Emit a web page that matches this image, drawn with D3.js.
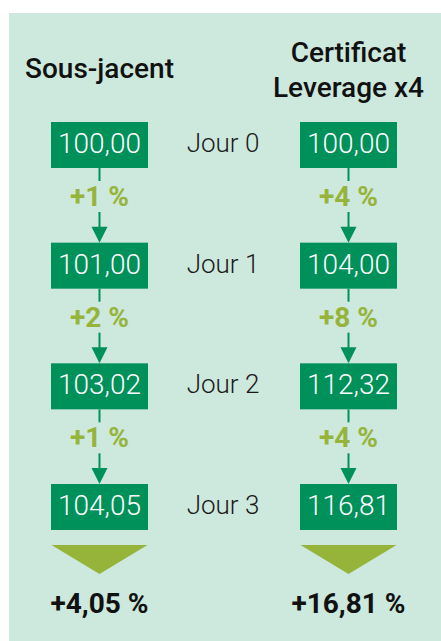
<!DOCTYPE html>
<html>
<head>
<meta charset="utf-8">
<script src="https://cdn.jsdelivr.net/npm/d3@7"></script>
<style>
  html, body { margin: 0; padding: 0; background: #fff; }
  text { font-family: Roboto, "Open Sans", sans-serif; }
</style>
</head>
<body>
<div id="chart"></div>
<script>
// values
const days = ["Jour 0", "Jour 1", "Jour 2", "Jour 3"];
const columns = ["sous", "cert"];
const headers = { sous: ["Sous-jacent"], cert: ["Certificat", "Leverage x4"] };
const sousValues = [100, 101, 103.02, 104.05];
const certValues = [100, 104, 112.32, 116.81];
const sousChanges = [1, 2, 1];
const certChanges = [4, 8, 4];
const totals = [4.05, 16.81];

const W = 441, H = 641;
const green = "#00905a", olive = "#96b43a", bg = "#cde8dd";

const fr = d3.formatLocale({ decimal: ",", thousands: " ", grouping: [3], currency: ["", " €"] });
const fmt2 = fr.format(".2f");

const svg = d3.select("#chart")
    .append("svg")
    .attr("width", W)
    .attr("height", H);

// panel
svg.append("rect")
    .attr("x", 9).attr("y", 13)
    .attr("width", W - 9).attr("height", H - 13)
    .attr("fill", bg);

// scales
const x = d3.scalePoint().domain(columns).range([99.5, 348.5]);
const midX = 223;
const y = d3.scaleLinear().domain([0, days.length - 1]).range([122, 484]);
const boxW = 97, boxH = 46;

const series = [
    { key: "sous", values: sousValues, changes: sousChanges, total: totals[0] },
    { key: "cert", values: certValues, changes: certChanges, total: totals[1] }
];

// headers
svg.append("text")
    .attr("x", x("sous")).attr("y", 78)
    .attr("text-anchor", "middle")
    .style("font-size", "28px").style("font-weight", 500)
    .attr("fill", "#111")
    .text(headers.sous[0]);

svg.append("text")
    .attr("x", x("cert")).attr("y", 62)
    .attr("text-anchor", "middle")
    .style("font-size", "28px").style("font-weight", 500)
    .attr("fill", "#111")
    .selectAll("tspan")
    .data(headers.cert)
    .enter()
    .append("tspan")
    .attr("x", x("cert"))
    .attr("dy", (d, i) => i === 0 ? 0 : 35)
    .text(d => d);

// day labels
svg.append("g")
    .selectAll("text")
    .data(days)
    .enter()
    .append("text")
    .attr("x", midX)
    .attr("y", (d, i) => y(i) + boxH / 2 + 7)
    .attr("text-anchor", "middle")
    .style("font-size", "26px").style("font-weight", 300)
    .attr("fill", "#1a1a1a")
    .text(d => d);

series.forEach(s => {
    const cx = x(s.key);
    const g = svg.append("g");

    // connectors between days
    const links = g.selectAll(".link")
        .data(s.changes)
        .enter()
        .append("g");

    links.append("line")
        .attr("x1", cx).attr("x2", cx)
        .attr("y1", (d, i) => y(i) + boxH)
        .attr("y2", (d, i) => y(i) + boxH + 13)
        .attr("stroke", green).attr("stroke-width", 2);

    links.append("line")
        .attr("x1", cx).attr("x2", cx)
        .attr("y1", (d, i) => y(i) + boxH + 44)
        .attr("y2", (d, i) => y(i + 1) - 14)
        .attr("stroke", green).attr("stroke-width", 2);

    links.append("path")
        .attr("d", (d, i) => {
            const t = y(i + 1);
            return `M${cx - 8},${t - 16}L${cx + 8},${t - 16}L${cx},${t}Z`;
        })
        .attr("fill", green);

    links.append("text")
        .attr("x", cx)
        .attr("y", (d, i) => y(i) + boxH + 38)
        .attr("text-anchor", "middle")
        .style("font-size", "28px").style("font-weight", 700)
        .attr("fill", olive)
        .text(d => `+${d} %`);

    // value boxes
    const boxes = g.selectAll(".box")
        .data(s.values)
        .enter()
        .append("g");

    boxes.append("rect")
        .attr("x", cx - boxW / 2)
        .attr("y", (d, i) => y(i))
        .attr("width", boxW)
        .attr("height", boxH)
        .attr("fill", green);

    boxes.append("text")
        .attr("x", cx)
        .attr("y", (d, i) => y(i) + boxH / 2 + 8)
        .attr("text-anchor", "middle")
        .style("font-size", "28px").style("font-weight", 300)
        .attr("fill", "#fff")
        .text(d => fmt2(d));

    // result triangle
    const last = y(s.values.length - 1) + boxH;
    g.append("path")
        .attr("d", `M${cx - 48},${last + 15}L${cx + 48},${last + 15}L${cx},${last + 44}Z`)
        .attr("fill", olive);

    g.append("text")
        .attr("x", cx)
        .attr("y", 613)
        .attr("text-anchor", "middle")
        .style("font-size", "28px").style("font-weight", 700)
        .attr("fill", "#111")
        .text(`+${fmt2(s.total)} %`);
});
</script>
</body>
</html>
